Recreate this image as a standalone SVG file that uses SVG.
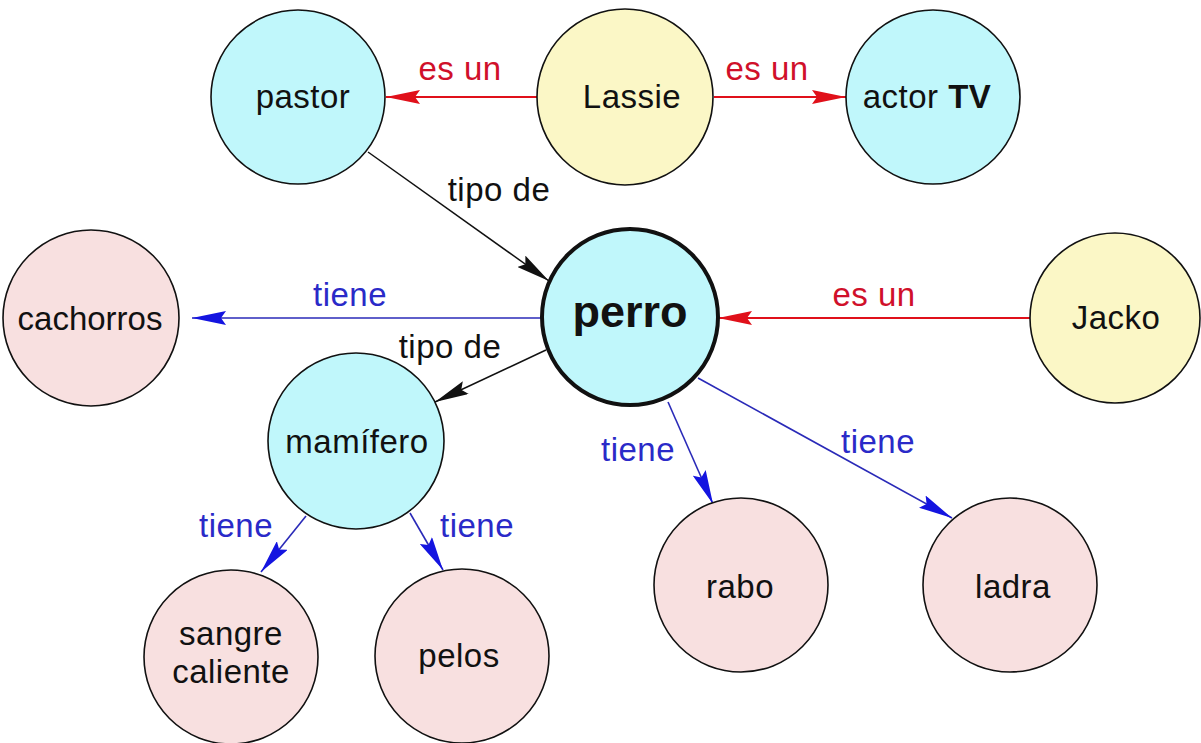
<svg xmlns="http://www.w3.org/2000/svg" width="1201" height="743" viewBox="0 0 1201 743">
<style>
  .node circle{stroke:#111;stroke-width:1.6}
  .cyan{fill:#c0f7fb}
  .yellow{fill:#fbf7c6}
  .pink{fill:#f8e0e0}
  .nt{font-family:"Liberation Sans",Arial,sans-serif;font-size:33px;fill:#111;text-anchor:middle;letter-spacing:0.5px}
  .lt{font-family:"Liberation Sans",Arial,sans-serif;font-size:33px;text-anchor:middle;letter-spacing:0.5px}
  .red{stroke:#e0101a;stroke-width:2;fill:none}
  .blk{stroke:#111;stroke-width:1.5;fill:none}
  .blu{stroke:#2a2ab8;stroke-width:1.6;fill:none}
  .rt{fill:#d0102a}
  .bt{fill:#2a2ac8}
  .kt{fill:#111}
</style>
<defs>
  <marker id="aR" viewBox="0 0 34 14" refX="34" refY="7" markerWidth="34" markerHeight="14" markerUnits="userSpaceOnUse" orient="auto">
    <path d="M0,0 L34,7 L0,14 L5,7 z" fill="#e0101a"/>
  </marker>
  <marker id="aK" viewBox="0 0 34 14" refX="34" refY="7" markerWidth="34" markerHeight="14" markerUnits="userSpaceOnUse" orient="auto">
    <path d="M0,0 L34,7 L0,14 L5,7 z" fill="#111"/>
  </marker>
  <marker id="aB" viewBox="0 0 34 14" refX="34" refY="7" markerWidth="34" markerHeight="14" markerUnits="userSpaceOnUse" orient="auto">
    <path d="M0,0 L34,7 L0,14 L5,7 z" fill="#1414e0"/>
  </marker>
</defs>
<rect width="1201" height="743" fill="#ffffff"/>

<g id="connectors">
  <line class="red" x1="537" y1="97" x2="386" y2="97" marker-end="url(#aR)"/>
  <line class="red" x1="714" y1="97" x2="846" y2="97" marker-end="url(#aR)"/>
  <line class="blk" x1="368" y1="152" x2="549" y2="281" marker-end="url(#aK)"/>
  <line class="blu" x1="542" y1="318" x2="192" y2="318" marker-end="url(#aB)"/>
  <line class="blk" x1="546" y1="350" x2="435" y2="402" marker-end="url(#aK)"/>
  <line class="red" x1="1031" y1="318" x2="718" y2="318" marker-end="url(#aR)"/>
  <line class="blu" x1="668" y1="402" x2="713" y2="504" marker-end="url(#aB)"/>
  <line class="blu" x1="698" y1="378" x2="952" y2="518" marker-end="url(#aB)"/>
  <line class="blu" x1="306" y1="516" x2="261" y2="572" marker-end="url(#aB)"/>
  <line class="blu" x1="410" y1="513" x2="443" y2="570" marker-end="url(#aB)"/>
  <text class="lt rt" x="460" y="80">es un</text>
  <text class="lt rt" x="767" y="80">es un</text>
  <text class="lt kt" x="499" y="201">tipo de</text>
  <text class="lt bt" x="350" y="306">tiene</text>
  <text class="lt kt" x="450" y="358">tipo de</text>
  <text class="lt rt" x="874" y="306">es un</text>
  <text class="lt bt" x="638" y="461">tiene</text>
  <text class="lt bt" x="878" y="453">tiene</text>
  <text class="lt bt" x="236" y="537">tiene</text>
  <text class="lt bt" x="477" y="537">tiene</text>
</g>

<g id="pastor" class="node">
  <circle class="cyan" cx="298" cy="97" r="87"/>
  <text class="nt" x="303" y="108">pastor</text>
</g>
<g id="lassie" class="node">
  <circle class="yellow" cx="625" cy="97" r="88"/>
  <text class="nt" x="632" y="108">Lassie</text>
</g>
<g id="actor-tv" class="node">
  <circle class="cyan" cx="933" cy="97" r="87"/>
  <text class="nt" x="927" y="108">actor <tspan font-weight="bold">TV</tspan></text>
</g>
<g id="perro" class="node">
  <circle class="cyan" cx="630" cy="317" r="88" style="stroke-width:4"/>
  <text class="nt" x="630" y="327" style="font-size:45px;font-weight:bold;letter-spacing:0">perro</text>
</g>
<g id="jacko" class="node">
  <circle class="yellow" cx="1115" cy="318" r="85"/>
  <text class="nt" x="1116" y="329">Jacko</text>
</g>
<g id="cachorros" class="node">
  <circle class="pink" cx="91" cy="318" r="88"/>
  <text class="nt" x="90" y="330" style="letter-spacing:0">cachorros</text>
</g>
<g id="mamifero" class="node">
  <circle class="cyan" cx="356" cy="441" r="88"/>
  <text class="nt" x="357" y="453">mamífero</text>
</g>
<g id="sangre-caliente" class="node">
  <circle class="pink" cx="231" cy="657" r="87"/>
  <text class="nt" x="231" y="645">sangre</text>
  <text class="nt" x="231" y="683">caliente</text>
</g>
<g id="pelos" class="node">
  <circle class="pink" cx="462" cy="656" r="87"/>
  <text class="nt" x="459" y="667">pelos</text>
</g>
<g id="rabo" class="node">
  <circle class="pink" cx="741" cy="585" r="87"/>
  <text class="nt" x="740" y="598">rabo</text>
</g>
<g id="ladra" class="node">
  <circle class="pink" cx="1010" cy="585" r="87"/>
  <text class="nt" x="1013" y="598">ladra</text>
</g>
</svg>
